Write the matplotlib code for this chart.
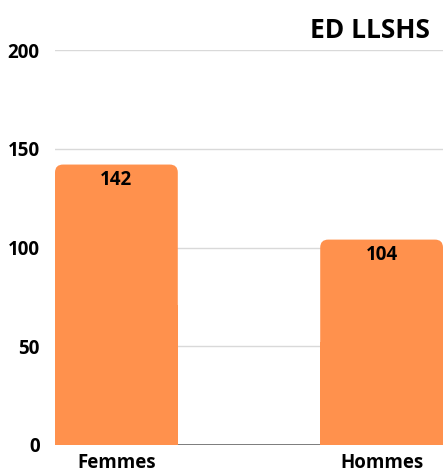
import numpy as np
from matplotlib import pyplot as plt
from matplotlib.patches import FancyBboxPatch, Rectangle

categories = ['Femmes', 'Hommes']
values = [142, 104]
yticks = [0, 50, 100, 150, 200]
title = 'ED LLSHS'

plt.rcParams['font.family'] = ['Open Sans', 'DejaVu Sans']
barColor = '#FF914D'
wt = 'bold'
fs = 13.5

fig = plt.figure(figsize=(4.43, 4.76), dpi=100)
ax = fig.add_axes([55 / 443, 31 / 476, 388 / 443, 395 / 476])

width = 0.463
x = np.arange(len(categories))
ax.set_xlim(-width / 2, len(categories) - 1 + width / 2)
ax.set_ylim(0, 200)

# px -> data conversion for rounded corners
xPerPx = (ax.get_xlim()[1] - ax.get_xlim()[0]) / 388
yPerPx = 200 / 395
radius = 8 * xPerPx
aspect = yPerPx / xPerPx

for xi, v in zip(x, values):
    left = xi - width / 2
    ax.add_patch(FancyBboxPatch((left, 0), width, v,
                                boxstyle=f'round,pad=0,rounding_size={radius}',
                                mutation_aspect=aspect, fc=barColor, ec='none', zorder=3))
    ax.add_patch(Rectangle((left, 0), width, v / 2, fc=barColor, ec='none', zorder=3))
    ax.annotate(str(v), (xi, v), xytext=(0, -4), textcoords='offset points',
                ha='center', va='top', fontsize=fs, fontweight=wt, zorder=4)

ax.set_yticks(yticks)
ax.set_yticklabels([str(t) for t in yticks], fontsize=fs, fontweight=wt)
ax.set_xticks(x)
ax.set_xticklabels(categories, fontsize=fs, fontweight=wt)
ax.tick_params(length=0)
ax.tick_params(axis='y', pad=11)
ax.tick_params(axis='x', pad=6)
for t in yticks[1:]:
    ax.axhline(t, color='#D9D9D9', lw=1, zorder=1)
ax.axhline(0, color='#666666', lw=1.2, zorder=2)
for s in ax.spines.values():
    s.set_visible(False)

fig.text(430 / 443, 1 - 30 / 476, title, ha='right', va='center',
         fontsize=19, fontweight=wt)

fig.savefig('out.png', dpi=100)
